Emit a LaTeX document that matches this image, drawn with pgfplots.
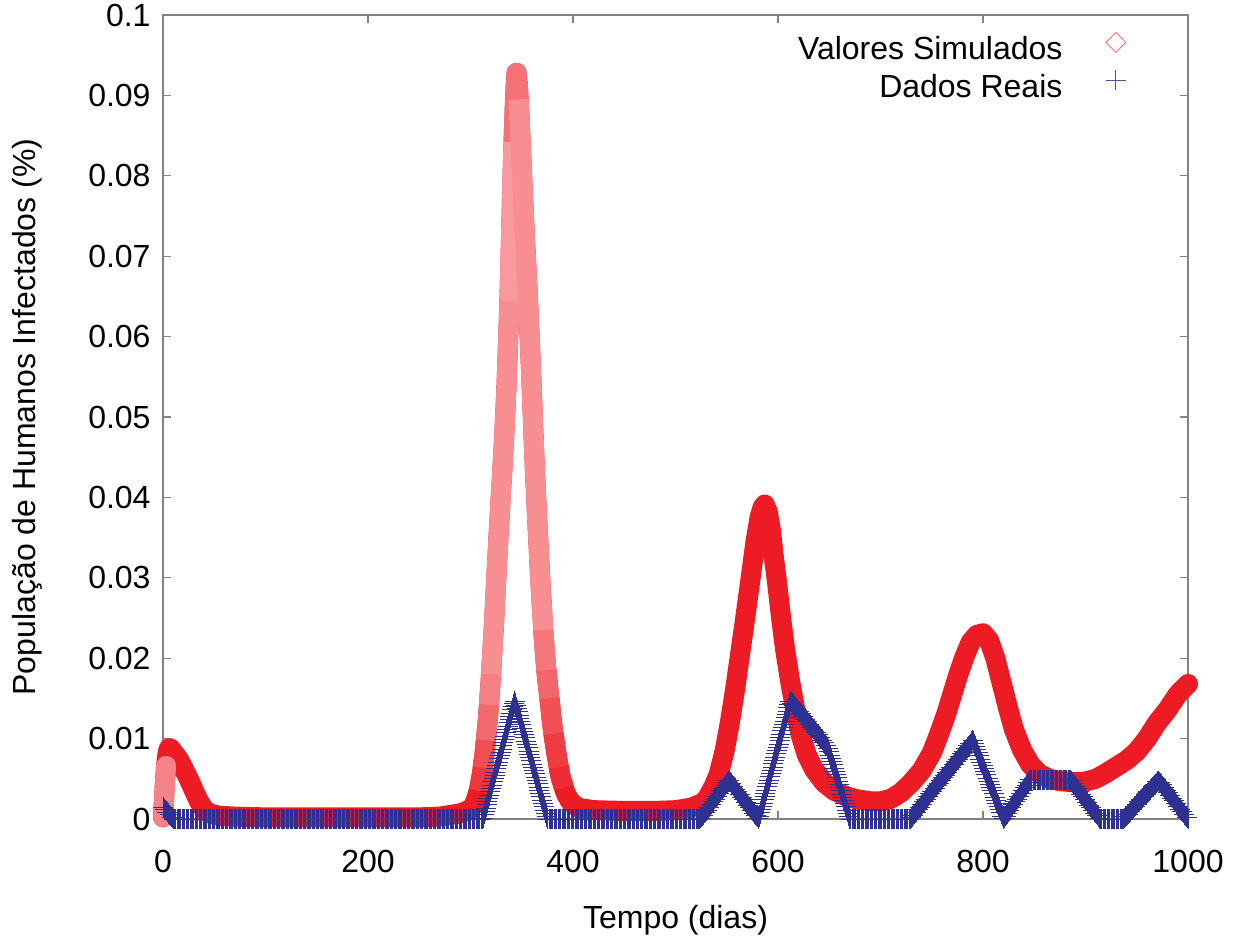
\documentclass[border=0pt]{standalone}
\usepackage{pgfplots}
\pgfplotsset{compat=1.18}
\usepackage{pgfplotstable}
\usepackage{fontspec}
\setmainfont{Liberation Sans}
\usetikzlibrary{decorations.markings}
\definecolor{simred}{RGB}{237,28,36}
\definecolor{realblue}{RGB}{46,49,146}
\definecolor{legred}{RGB}{240,120,100}
\definecolor{legblue}{RGB}{80,80,150}
\definecolor{bordergray}{RGB}{130,130,130}

% simulated values (Valores Simulados)
\pgfplotstableread{
t y
0 0.0002
1 0.0025
2 0.0048
3 0.0066
4 0.0078
5 0.0085
6 0.0088
7 0.0088
8 0.0087
10 0.0083
15 0.0075
20 0.0063
25 0.0050
30 0.0036
35 0.0022
40 0.0012
45 0.0007
55 0.0004
70 0.0003
100 0.0002
150 0.0002
200 0.0002
250 0.0002
270 0.0003
280 0.0005
290 0.0007
296 0.0010
300 0.0012
303 0.0017
304 0.0020
305 0.0023
306 0.0027
307 0.0031
308 0.0035
309 0.0041
310 0.0048
311 0.0055
312 0.0064
313 0.0074
314 0.0085
315 0.0098
316 0.0111
317 0.0125
318 0.0142
319 0.0160
320 0.0180
321 0.0201
322 0.0223
323 0.0245
324 0.0270
325 0.0295
326 0.0320
327 0.0344
328 0.0367
329 0.0390
330 0.0412
331 0.0433
332 0.0455
333 0.0480
334 0.0507
335 0.0535
336 0.0570
337 0.0606
338 0.0645
339 0.0695
340 0.0748
341 0.0800
342 0.0842
343 0.0880
344 0.0910
345 0.0928
346 0.0915
347 0.0895
348 0.0868
349 0.0840
350 0.0810
351 0.0780
352 0.0752
353 0.0725
354 0.0700
355 0.0675
356 0.0650
357 0.0620
358 0.0590
359 0.0560
360 0.0527
361 0.0494
362 0.0460
363 0.0430
364 0.0402
365 0.0375
366 0.0350
367 0.0325
368 0.0300
369 0.0278
370 0.0256
371 0.0235
372 0.0217
373 0.0200
374 0.0185
375 0.0173
376 0.0161
377 0.0150
378 0.0138
379 0.0126
380 0.0115
381 0.0106
382 0.0097
383 0.0088
384 0.0080
385 0.0073
386 0.0065
387 0.0058
388 0.0052
389 0.0048
390 0.0044
391 0.0039
392 0.0035
393 0.0032
394 0.0029
395 0.0027
396 0.0025
397 0.0022
400 0.0019
405 0.0014
420 0.0011
450 0.0010
480 0.0010
500 0.0011
515 0.0014
525 0.0019
530 0.0024
537 0.0040
542 0.0055
548 0.0085
553 0.0120
558 0.0160
563 0.0205
568 0.0250
573 0.0297
578 0.0345
582 0.0375
585 0.0388
587 0.0391
590 0.0382
593 0.0360
596 0.0325
599 0.0295
603 0.0250
607 0.0210
612 0.0170
617 0.0135
622 0.0105
628 0.0080
635 0.0062
645 0.0045
655 0.0035
665 0.0029
675 0.0025
690 0.0022
700 0.0022
710 0.0025
720 0.0033
730 0.0045
740 0.0060
750 0.0082
757 0.0105
764 0.0130
770 0.0155
776 0.0180
782 0.0202
788 0.0220
794 0.0229
800 0.0231
806 0.0222
812 0.0200
818 0.0170
824 0.0140
830 0.0112
838 0.0086
846 0.0068
855 0.0056
865 0.0050
875 0.0047
885 0.0046
898 0.0046
910 0.0050
920 0.0057
930 0.0065
940 0.0073
950 0.0084
960 0.0100
970 0.0120
980 0.0136
990 0.0155
1000 0.0168
}\sim
% real data (Dados Reais)
\pgfplotstableread{
t y
0 0.0015
10 0
312 0
343 0.0147
375 0
524 0
552 0.0048
581 0
612 0.0147
648 0.0090
670 0
729 0
790 0.0098
820 0
846 0.0049
885 0.0049
914 0
937 0
971 0.0048
1000 0
}\real

\begin{document}
\begin{tikzpicture}
\useasboundingbox (-81.5pt,-61pt) rectangle (538.5pt,409.5pt);
\begin{axis}[
  scale only axis, width=512.5pt, height=402pt,
  xmin=0, xmax=1000, ymin=0, ymax=0.1,
  clip=false,
  axis line style={bordergray, line width=0.6pt},
  every tick/.style={bordergray, line width=0.6pt},
  major tick length=4pt,
  tick align=inside,
  xtick={0,200,400,600,800,1000},
  xticklabels={0,200,400,600,800,1000},
  ytick={0,0.01,0.02,0.03,0.04,0.05,0.06,0.07,0.08,0.09,0.1},
  yticklabels={0,0.01,0.02,0.03,0.04,0.05,0.06,0.07,0.08,0.09,0.1},
  scaled y ticks=false,
  /pgf/number format/assume math mode=true,
  tick label style={font=\fontsize{16}{19}\selectfont},
  xticklabel style={yshift=-12pt},
  yticklabel style={xshift=-2.7pt},
  label style={font=\fontsize{16}{19}\selectfont},
  xlabel={Tempo (dias)},
  ylabel={População de Humanos Infectados (\%)},
  xlabel style={at={(axis description cs:0.5,-0.1356)}, anchor=base},
  ylabel style={at={(axis description cs:-0.1239,0.5)}, anchor=base},
  legend plot pos=right,
  legend style={at={(0.9398,0.979)}, anchor=north east, draw=none, fill=none,
    inner sep=0pt, inner xsep=0pt, inner ysep=0pt, outer sep=0pt,
    row sep=0pt, column sep=0pt,
    nodes={inner sep=0pt, text depth=0pt}, cells={anchor=base east},
    font=\fontsize{16}{19}\selectfont},
  band/.style={line width=10pt, line join=round},
  seg/.style={band, line cap=butt, forget plot, restrict x to domain=#1},
]
% simulated values: full band
\addplot[simred, band, line cap=round,
  legend image code/.code={\path (0pt,0pt); \draw[legred, line width=0.45pt] (21.7pt,13.8pt) -- (26.7pt,8.8pt) -- (21.7pt,3.8pt) -- (16.7pt,8.8pt) -- cycle;}]
  table[x=t,y=y] {\sim};
\addlegendentry{Valores Simulados}
% lighter where the simulated curve is steep (sparse outlines in the original)
\addplot[simred!55!white, band, line cap=round, forget plot, restrict x to domain=0:3] table[x=t,y=y] {\sim};
\addplot[simred!88!white, seg={308:313}] table[x=t,y=y] {\sim};
\addplot[simred!78!white, seg={312:316}] table[x=t,y=y] {\sim};
\addplot[simred!66!white, seg={315:319}] table[x=t,y=y] {\sim};
\addplot[simred!56!white, seg={318:321}] table[x=t,y=y] {\sim};
\addplot[simred!50!white, seg={320:339}] table[x=t,y=y] {\sim};
\addplot[simred!45!white, seg={338:343}] table[x=t,y=y] {\sim};
\addplot[simred!62!white, seg={342:348}] table[x=t,y=y] {\sim};
\addplot[simred!50!white, seg={347:372}] table[x=t,y=y] {\sim};
\addplot[simred!60!white, seg={371:375}] table[x=t,y=y] {\sim};
\addplot[simred!68!white, seg={374:378}] table[x=t,y=y] {\sim};
\addplot[simred!77!white, seg={377:382}] table[x=t,y=y] {\sim};
\addplot[simred!86!white, seg={381:387}] table[x=t,y=y] {\sim};
\addplot[simred!93!white, seg={386:391}] table[x=t,y=y] {\sim};
% real data: plus marks along the data path (vertical strokes dense, horizontal strokes sparser)
\addplot[draw=none,
  postaction={decorate, decoration={markings,
    mark=between positions 0 and 1 step 0.65pt with {\pgftransformresetnontranslations\draw[realblue, line width=0.4pt] (0pt,-5pt) -- (0pt,5pt);}}},
  postaction={decorate, decoration={markings,
    mark=between positions 0 and 1 step 1.7pt with {\pgftransformresetnontranslations\draw[realblue, line width=0.42pt] (-5pt,0pt) -- (5pt,0pt);}}},
  legend image code/.code={%
    \pgfsetlinewidth{0.45pt}\pgfsetstrokecolor{legblue}%
    \pgfpathmoveto{\pgfqpoint{16.7pt}{8.8pt}}\pgfpathlineto{\pgfqpoint{26.7pt}{8.8pt}}%
    \pgfpathmoveto{\pgfqpoint{21.7pt}{3.8pt}}\pgfpathlineto{\pgfqpoint{21.7pt}{13.8pt}}%
    \pgfusepath{stroke}%
    \pgfpathmoveto{\pgfpointorigin}\pgfusepath{}}]
  table[x=t,y=y] {\real};
\addlegendentry{Dados Reais}
\end{axis}
\end{tikzpicture}
\end{document}
